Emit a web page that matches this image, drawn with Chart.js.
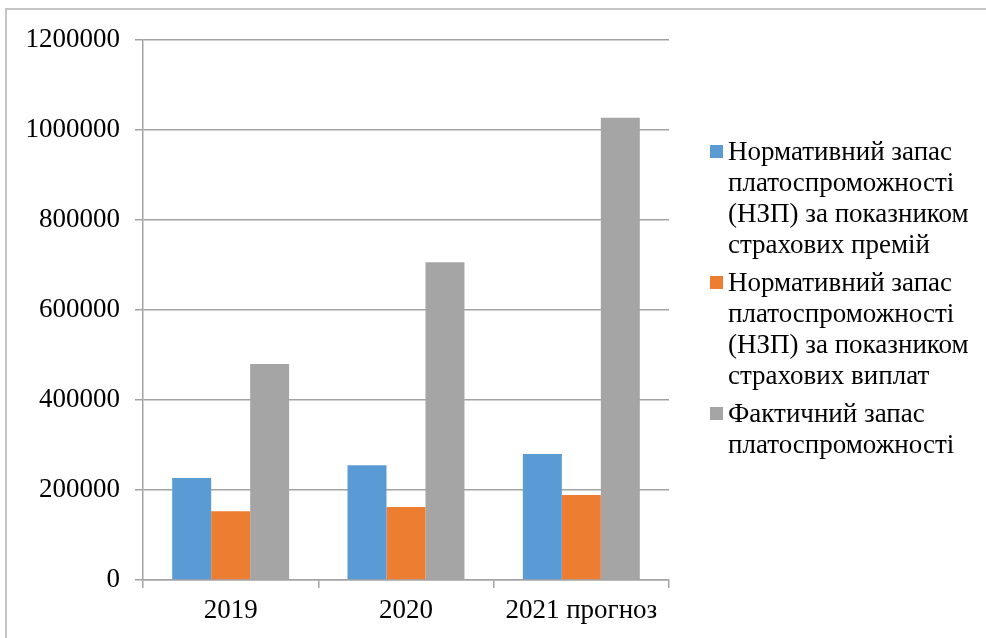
<!DOCTYPE html>
<html>
<head>
<meta charset="utf-8">
<title>Запас платоспроможності</title>
<script src="https://cdn.jsdelivr.net/npm/chart.js@4.4.1/dist/chart.umd.min.js"></script>
<style>
  html, body { margin: 0; padding: 0; background: #fff; overflow: hidden; }
  .wrap { position: relative; width: 986px; height: 638px; }
  .frame {
    position: absolute; left: 5px; top: 8px; right: -10px; bottom: -10px;
    border: 2px solid #c4c4c4;
  }
  canvas { position: absolute; left: 0; top: 0; }
  .preload { position: absolute; left: -999px; top: 0; font: 27px "Liberation Serif"; }
</style>
</head>
<body>
<div class="wrap">
  <div class="frame"></div>
  <canvas id="reserveChart" width="986" height="638"></canvas>
</div>
<span class="preload">Нормативний 2019</span>
<script>
// Роки (категорії)
const years = ['2019', '2020', '2021 прогноз'];

// Назви рядів, розбиті на рядки для легенди
const seriesNames = [
  ['Нормативний запас', 'платоспроможності', '(НЗП) за показником', 'страхових премій'],
  ['Нормативний запас', 'платоспроможності', '(НЗП) за показником', 'страхових виплат'],
  ['Фактичний запас', 'платоспроможності']
];

// Значення рядів
const nzpPremiums = [226700, 254800, 280000];
const nzpPayments = [152600, 162200, 188900];
const actualReserve = [480000, 706000, 1027400];

// Поділки осі Y
const yTicks = [0, 200000, 400000, 600000, 800000, 1000000, 1200000];

const colors = ['#5B9BD5', '#ED7D31', '#A5A5A5'];
const fontFamily = "'Liberation Serif', 'DejaVu Serif', serif";
const gridColor = '#a3a3a3';

// Легенда праворуч, з переносом рядків
const sideLegend = {
  id: 'sideLegend',
  afterDraw(chart) {
    const ctx = chart.ctx;
    const area = chart.chartArea;
    const textX = area.right + 59;
    const boxX = area.right + 41;
    const step = 31;
    let y = 153;
    ctx.save();
    ctx.font = '27px ' + fontFamily;
    ctx.textBaseline = 'middle';
    ctx.textAlign = 'left';
    seriesNames.forEach((lines, i) => {
      ctx.fillStyle = colors[i];
      ctx.fillRect(boxX, y - 8, 13, 13);
      ctx.fillStyle = '#000';
      lines.forEach((line, k) => {
        ctx.fillText(line, textX, y + k * step);
      });
      y += lines.length * step + 7;
    });
    ctx.restore();
  }
};

function drawChart() {
  const ctx = document.getElementById('reserveChart').getContext('2d');

  new Chart(ctx, {
    type: 'bar',
    data: {
      labels: years,
      datasets: [nzpPremiums, nzpPayments, actualReserve].map((values, i) => ({
        label: seriesNames[i].join(' '),
        data: values,
        backgroundColor: colors[i],
        borderWidth: 0,
        categoryPercentage: 0.667,
        barPercentage: 1
      }))
    },
    options: {
      responsive: false,
      animation: false,
      devicePixelRatio: 1,
      layout: {
        padding: { top: 40, right: 317, bottom: 0, left: 0 }
      },
      plugins: {
        legend: { display: false },
        tooltip: { enabled: false }
      },
      scales: {
        x: {
          grid: {
            display: true,
            drawOnChartArea: false,
            drawTicks: true,
            tickLength: 8,
            color: gridColor,
            lineWidth: 1.5
          },
          border: { display: true, color: gridColor, width: 1.5 },
          ticks: {
            color: '#000',
            padding: 7,
            maxRotation: 0,
            font: { family: fontFamily, size: 27 }
          },
          afterFit(scale) { scale.height = 58; }
        },
        y: {
          min: 0,
          max: 1200000,
          afterBuildTicks(scale) {
            scale.ticks = yTicks.map(v => ({ value: v }));
          },
          grid: {
            color: gridColor,
            lineWidth: 1.5,
            tickLength: 8
          },
          border: { display: true, color: gridColor, width: 1.5 },
          ticks: {
            color: '#000',
            padding: 15,
            font: { family: fontFamily, size: 27 },
            callback: value => String(value)
          },
          afterFit(scale) { scale.width = 143; }
        }
      }
    },
    plugins: [sideLegend]
  });
}

document.fonts.load("27px 'Liberation Serif'").then(drawChart, drawChart);
</script>
</body>
</html>
